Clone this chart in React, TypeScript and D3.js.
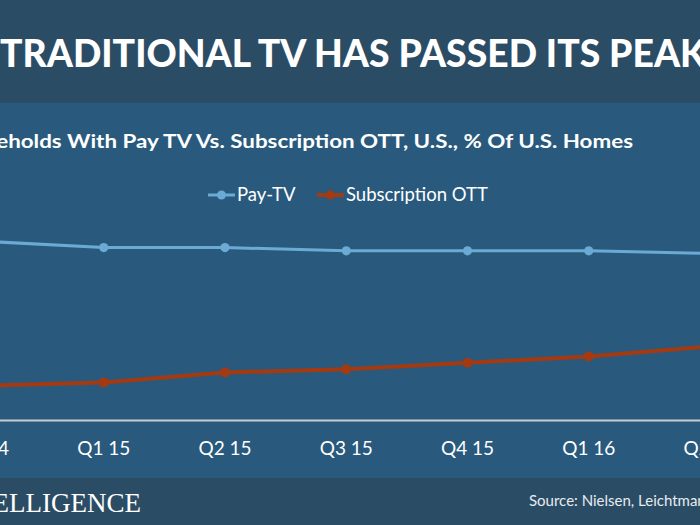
import React from 'react';
import * as d3 from 'd3';

const categories = ['Q4 14', 'Q1 15', 'Q2 15', 'Q3 15', 'Q4 15', 'Q1 16', 'Q2 16'];
const payTv = [84.7, 83.1, 83.1, 82.3, 82.3, 82.3, 81.6];
const subscriptionOtt = [48.6, 49.4, 51.9, 52.7, 54.3, 55.9, 58.4];
const seriesNames = ['Pay-TV', 'Subscription OTT'];
const titleText = 'TRADITIONAL TV HAS PASSED ITS PEAK';
const subtitleText = 'Households With Pay TV Vs. Subscription OTT, U.S., % Of U.S. Homes';
const sourceText = 'Source: Nielsen, Leichtman Research Group';
const brandText = 'BI INTELLIGENCE';

const W = 700;
const H = 525;
const HEADER = '#2b4c65';
const BG = '#295a7d';
const PAY = '#6aaad4';
const OTT = '#a33a12';
const FONT = 'Lato, "Open Sans", sans-serif';

export default function App() {
  const x = d3.scalePoint<string>().domain(categories).range([-17.5, 710]);
  const y = d3.scaleLinear().domain([40, 90]).range([420, 220]);

  const series = [
    { name: seriesNames[0], values: payTv, color: PAY, width: 3, r: 4.6 },
    { name: seriesNames[1], values: subscriptionOtt, color: OTT, width: 4, r: 5 },
  ];

  const line = d3
    .line<number>()
    .x((_, i) => x(categories[i]) as number)
    .y((d) => y(d));

  const legendItems = [
    { name: seriesNames[0], color: PAY, x0: 208, w: 3 },
    { name: seriesNames[1], color: OTT, x0: 317, w: 4 },
  ];

  return (
    <svg
      width={W}
      height={H}
      viewBox={`0 0 ${W} ${H}`}
      style={{ position: 'absolute', left: 0, top: 0, display: 'block' }}
    >
      <defs>
        <clipPath id="clip">
          <rect x={0} y={0} width={W} height={H} />
        </clipPath>
      </defs>
      <g clipPath="url(#clip)">
        <rect x={0} y={0} width={W} height={103} fill={HEADER} />
        <rect x={0} y={103} width={W} height={375} fill={BG} />
        <rect x={0} y={478} width={W} height={47} fill={HEADER} />

        <text
          x={0}
          y={67}
          fill="#ffffff"
          fontFamily={FONT}
          fontWeight={900}
          fontSize={37}
          textLength={706}
          lengthAdjust="spacingAndGlyphs"
        >
          {titleText}
        </text>

        <text
          x={-56}
          y={148}
          fill="#ffffff"
          fontFamily={FONT}
          fontWeight={700}
          fontSize={18.5}
          textLength={689}
          lengthAdjust="spacingAndGlyphs"
        >
          {subtitleText}
        </text>

        {legendItems.map((it) => (
          <g key={it.name}>
            <line x1={it.x0} x2={it.x0 + 27} y1={195} y2={195} stroke={it.color} strokeWidth={it.w} />
            <circle cx={it.x0 + 13.5} cy={195} r={4.5} fill={it.color} />
            <text x={it.x0 + 29} y={201} fill="#ffffff" fontFamily={FONT} fontSize={18.5}>
              {it.name}
            </text>
          </g>
        ))}

        <line x1={0} x2={W} y1={420.5} y2={420.5} stroke="#c5ccd3" strokeWidth={2} />

        {categories.map((c) => (
          <text
            key={c}
            x={x(c)}
            y={455}
            textAnchor="middle"
            fill="#ffffff"
            fontFamily={FONT}
            fontSize={19}
          >
            {c}
          </text>
        ))}

        {series.map((s) => (
          <g key={s.name}>
            <path d={line(s.values) || ''} fill="none" stroke={s.color} strokeWidth={s.width} />
            {s.values.map((v, i) => (
              <circle key={i} cx={x(categories[i])} cy={y(v)} r={s.r} fill={s.color} />
            ))}
          </g>
        ))}

        <text
          x={141}
          y={512}
          textAnchor="end"
          fill="#ffffff"
          fontFamily='"Liberation Serif", "DejaVu Serif", serif'
          fontSize={27}
        >
          {brandText}
        </text>

        <text x={529} y={506} fill="#e6ebf0" fontFamily={FONT} fontSize={15}>
          {sourceText}
        </text>
      </g>
    </svg>
  );
}
